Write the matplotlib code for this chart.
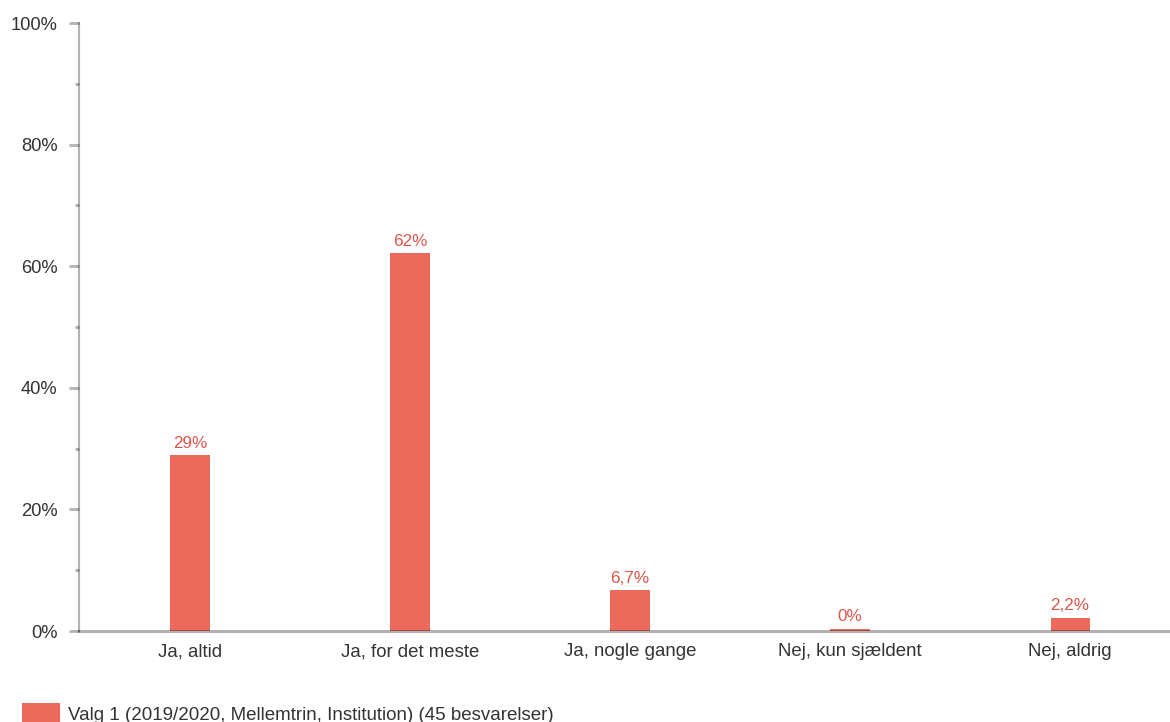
import numpy as np
import matplotlib
matplotlib.use("Agg")
import matplotlib.pyplot as plt
from matplotlib.ticker import MultipleLocator, FuncFormatter

# ── Data ──────────────────────────────────────────────────────────────────────
categories = ["Ja, altid", "Ja, for det meste", "Ja, nogle gange",
              "Nej, kun sjældent", "Nej, aldrig"]
values = [28.9, 62.2, 6.7, 0.4, 2.2]          # bar heights (%)
value_labels = ["29%", "62%", "6,7%", "0%", "2,2%"]
series_label = "Valg 1 (2019/2020, Mellemtrin, Institution) (45 besvarelser)"

BAR_COLOR = "#EC6A5C"
LABEL_COLOR = "#D9574B"
TEXT_COLOR = "#333333"
AXIS_COLOR = (0, 0, 0, 0.3)

plt.rcParams["font.family"] = ["Liberation Sans", "DejaVu Sans"]

fig = plt.figure(figsize=(11.7, 7.22), dpi=100)
ax = fig.add_axes([79 / 1170, 91 / 722, 1089 / 1170, 608 / 722])

x = np.arange(len(categories))
bars = ax.bar(x, values, width=0.178, color=BAR_COLOR, label=series_label, zorder=2)

for b, lab in zip(bars, value_labels):
    ax.annotate(lab, (b.get_x() + b.get_width() / 2, b.get_height()),
                xytext=(0, 3), textcoords="offset points",
                ha="center", va="bottom", fontsize=12.3, color=LABEL_COLOR)

ax.set_xlim(-0.5045, 4.445)
ax.set_ylim(0, 100)
ax.set_xticks(x)
ax.set_xticklabels(categories)
ax.yaxis.set_major_locator(MultipleLocator(20))
ax.yaxis.set_minor_locator(MultipleLocator(10))
ax.yaxis.set_major_formatter(FuncFormatter(lambda v, _: f"{v:.0f}%"))

for s in ("top", "right"):
    ax.spines[s].set_visible(False)
ax.spines["left"].set_color(AXIS_COLOR)
ax.spines["left"].set_linewidth(1.6)
ax.spines["bottom"].set_color(AXIS_COLOR)
ax.spines["bottom"].set_linewidth(2.2)
ax.spines["bottom"].set_zorder(3)

ax.tick_params(axis="x", length=0, pad=9, labelsize=13.4, labelcolor=TEXT_COLOR)
ax.tick_params(axis="y", which="major", length=7.5, width=2, color=AXIS_COLOR,
               pad=8, labelsize=13.2, labelcolor=TEXT_COLOR)
ax.tick_params(axis="y", which="minor", length=3, width=2, color=AXIS_COLOR)

fig.legend(loc="lower left", bbox_to_anchor=(22 / 1170, -0.003),
           frameon=False, fontsize=13.5, handlelength=2.0, handleheight=1.35,
           handletextpad=0.45, borderpad=0, borderaxespad=0,
           labelcolor=TEXT_COLOR)

fig.savefig("out.png", dpi=100)
